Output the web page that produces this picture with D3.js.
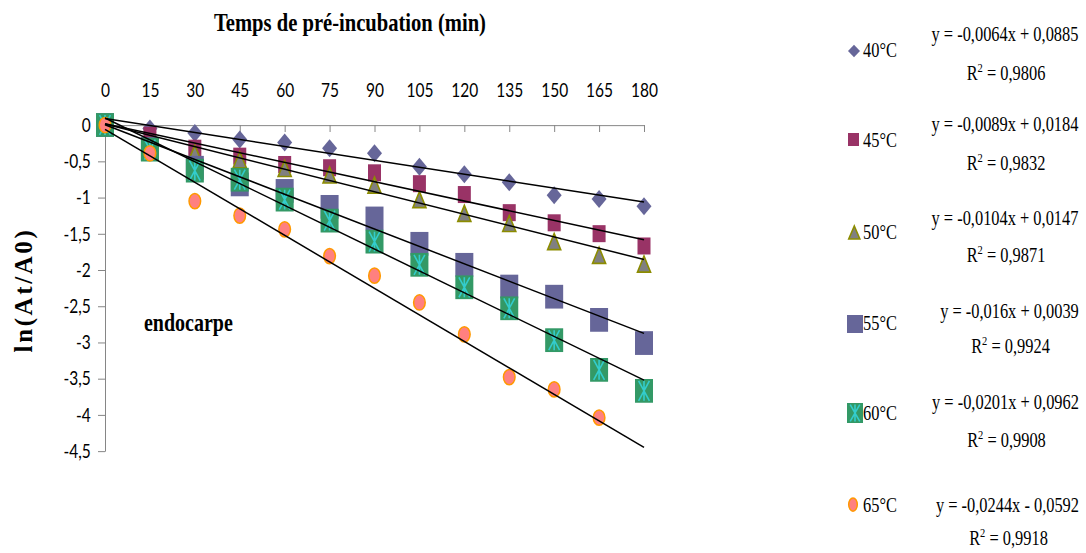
<!DOCTYPE html>
<html>
<head>
<meta charset="utf-8">
<script src="https://cdn.jsdelivr.net/npm/d3@7"></script>
<style>
  html, body { margin: 0; padding: 0; background: #fff; }
  svg { display: block; }
</style>
</head>
<body>
<svg id="chart"></svg>
<script>
// Pre-incubation times (min)
const times = [0, 15, 30, 45, 60, 75, 90, 105, 120, 135, 150, 165, 180];

// ln(At/A0) for each pre-incubation temperature
const s40 = [0, -0.05, -0.11, -0.20, -0.24, -0.32, -0.39, -0.575, -0.68, -0.79, -0.97, -1.02, -1.12];
const s45 = [0, -0.14, -0.32, -0.43, -0.545, -0.59, -0.66, -0.81, -0.96, -1.21, -1.35, -1.50, -1.67];
const s50 = [0, -0.30, -0.39, -0.48, -0.60, -0.69, -0.83, -1.03, -1.22, -1.36, -1.61, -1.80, -1.92];
const s55 = [0, -0.33, -0.59, -0.82, -0.91, -1.13, -1.29, -1.64, -1.93, -2.23, -2.37, -2.69, -3.01];
const s60 = [0, -0.34, -0.63, -0.755, -1.03, -1.32, -1.61, -1.93, -2.24, -2.53, -2.97, -3.38, -3.67];
const s65 = [0, -0.39, -1.05, -1.25, -1.44, -1.81, -2.08, -2.45, -2.89, -3.48, -3.65, -4.04];

const seriesNames = ["40°C", "45°C", "50°C", "55°C", "60°C", "65°C"];
const seriesValues = [s40, s45, s50, s55, s60, s65];

// Linear trend lines (y = a·x + b) and their R²
const slopes = [-0.0064, -0.0089, -0.0104, -0.016, -0.0201, -0.0244];
const intercepts = [0.0885, 0.0184, 0.0147, 0.0039, 0.0962, -0.0592];
const r2 = [0.9806, 0.9832, 0.9871, 0.9924, 0.9908, 0.9918];

const xTicks = times;
const yTicks = [0, -0.5, -1, -1.5, -2, -2.5, -3, -3.5, -4, -4.5];

const xTitle = "Temps de pré-incubation (min)";
const yTitle = "ln(At/A0)";
const note = "endocarpe";

// ---- layout ----
const W = 1086, H = 553;
const K = 1.25;              // vertical stretch of the drawing
const VH = H / K;

const svg = d3.select("#chart")
  .attr("width", W).attr("height", H)
  .attr("viewBox", `0 0 ${W} ${VH}`)
  .attr("preserveAspectRatio", "none");

const x = d3.scaleLinear().domain([0, 180]).range([105, 644]);
const y = d3.scaleLinear().domain([0, -4.5]).range([125 / K, 451 / K]);

const serif = "'Liberation Serif', 'Times New Roman', serif";
const sans = "Lato, 'Open Sans', sans-serif";

// marker styles per series: shape, size (w, h) in drawing units
const styles = [
  { shape: "diamond",  fill: "#666699", stroke: "none",    w: 15, h: 14.4 },
  { shape: "square",   fill: "#993366", stroke: "none",    w: 13, h: 13.6 },
  { shape: "triangle", fill: "#808080", stroke: "#8c8c00", w: 14.7, h: 14.4 },
  { shape: "square",   fill: "#666699", stroke: "none",    w: 18, h: 19 },
  { shape: "star",     fill: "#339966", stroke: "none",    w: 18, h: 19 },
  { shape: "circle",   fill: "#ff8080", stroke: "#ff9900", w: 13, h: 13.6 }
];

function drawMarker(g, st, w, h) {
  if (st.shape === "diamond") {
    g.append("path").attr("d", `M0,${-h/2}L${w/2},0L0,${h/2}L${-w/2},0Z`).attr("fill", st.fill);
  } else if (st.shape === "square") {
    g.append("rect").attr("x", -w/2).attr("y", -h/2).attr("width", w).attr("height", h).attr("fill", st.fill);
  } else if (st.shape === "triangle") {
    g.append("path").attr("d", `M0,${-h/2 + 0.8}L${w/2 - 0.8},${h/2 - 0.8}L${-w/2 + 0.8},${h/2 - 0.8}Z`)
      .attr("fill", st.fill).attr("stroke", st.stroke).attr("stroke-width", 1.6)
      .attr("vector-effect", "non-scaling-stroke").attr("stroke-linejoin", "miter");
  } else if (st.shape === "star") {
    g.append("rect").attr("x", -w/2).attr("y", -h/2).attr("width", w).attr("height", h).attr("fill", st.fill);
    const ix = w * 0.3, iy = h * 0.42;
    const star = `M0,${-iy}L0,${iy}M${-ix},${-iy}L${ix},${iy}M${ix},${-iy}L${-ix},${iy}`;
    g.append("path").attr("d", star).attr("stroke", "#33cccc").attr("stroke-width", 1.6)
      .attr("fill", "none").attr("vector-effect", "non-scaling-stroke");
  } else if (st.shape === "circle") {
    g.append("ellipse").attr("rx", w/2 - 0.7).attr("ry", h/2 - 0.7)
      .attr("fill", st.fill).attr("stroke", st.stroke).attr("stroke-width", 1.5)
      .attr("vector-effect", "non-scaling-stroke");
  }
}

// ---- axes ----
const fmt = d => String(d).replace(".", ",");

const xAxis = svg.append("g")
  .attr("transform", `translate(0,${y(0)})`)
  .call(d3.axisTop(x).tickValues(xTicks).tickFormat(fmt).tickSize(-5.6).tickSizeOuter(0).tickPadding(22.6));

const yAxis = svg.append("g")
  .attr("transform", `translate(${x(0)},0)`)
  .call(d3.axisLeft(y).tickValues(yTicks).tickFormat(fmt).tickSize(7).tickSizeOuter(0).tickPadding(7.3));

[xAxis, yAxis].forEach(ax => {
  ax.selectAll("path, line").attr("stroke", "#868686").attr("stroke-width", 1)
    .attr("vector-effect", "non-scaling-stroke");
  ax.selectAll("text").attr("font-family", sans).attr("font-size", 15.5).attr("fill", "#000");
});

// ---- data markers ----
const plot = svg.append("g");
seriesValues.forEach((vals, i) => {
  const st = styles[i];
  const gs = plot.append("g");
  vals.forEach((v, j) => {
    const g = gs.append("g").attr("transform", `translate(${x(times[j])},${y(v)})`);
    drawMarker(g, st, st.w, st.h);
  });
});

// ---- trend lines ----
const line = d3.line().x(d => x(d[0])).y(d => y(d[1]));
slopes.forEach((a, i) => {
  const b = intercepts[i];
  const pts = [0, 180].map(t => [t, a * t + b]);
  svg.append("path").attr("d", line(pts)).attr("fill", "none")
    .attr("stroke", "#000").attr("stroke-width", 1.5)
    .attr("vector-effect", "non-scaling-stroke");
});

// ---- titles ----
svg.append("text").attr("x", 350).attr("y", 30.7 / K)
  .attr("text-anchor", "middle").attr("font-family", serif).attr("font-weight", "bold")
  .attr("font-size", 20.6).text(xTitle);

svg.append("g").attr("transform", `translate(23,${290 / K}) scale(1,${1 / K}) rotate(-90)`)
  .append("text").attr("y", 9).attr("text-anchor", "middle")
  .attr("font-family", serif).attr("font-weight", "bold").attr("font-size", 25)
  .attr("letter-spacing", 2.6).text(yTitle);

svg.append("text").attr("x", 144).attr("y", 331 / K)
  .attr("font-family", serif).attr("font-weight", "bold").attr("font-size", 20).text(note);

// ---- legend with trend line equations ----
// positions in screen pixels: marker centre/size, label baseline, equation centre and baselines
const legendLayout = [
  { mx: 854,   my: 51,    mw: 12,   mh: 12.3, ly: 56.7, ex: 1005,   ey: 40.7, ry: 80 },
  { mx: 853.5, my: 139.5, mw: 11,   mh: 13,   ly: 146.7, ex: 1005,  ey: 130.7, ry: 170 },
  { mx: 854.3, my: 232.5, mw: 12.7, mh: 15,   ly: 239,  ex: 1005,   ey: 225,  ry: 262 },
  { mx: 855,   my: 324,   mw: 16,   mh: 18,   ly: 330,  ex: 1009.5, ey: 318,  ry: 353 },
  { mx: 855,   my: 413,   mw: 16,   mh: 20,   ly: 420,  ex: 1005.5, ey: 409,  ry: 447 },
  { mx: 853,   my: 504.5, mw: 10,   mh: 15,   ly: 512,  ex: 1007.5, ey: 512,  ry: 545 }
];

const num = v => String(Math.abs(v)).replace(".", ",");
const legend = svg.append("g").attr("font-family", serif).attr("fill", "#000");
seriesNames.forEach((name, i) => {
  const L = legendLayout[i];
  const g = legend.append("g").attr("transform", `translate(${L.mx},${L.my / K})`);
  drawMarker(g, styles[i], L.mw, L.mh / K);

  legend.append("text").attr("x", 863).attr("y", L.ly / K).attr("font-size", 16.4).text(name);

  const a = slopes[i], b = intercepts[i];
  const eq = `y = ${a < 0 ? "-" : ""}${num(a)}x ${b < 0 ? "-" : "+"} ${num(b)}`;
  legend.append("text").attr("x", L.ex).attr("y", L.ey / K).attr("text-anchor", "middle")
    .attr("font-size", 16.4).text(eq);

  const rt = legend.append("text").attr("x", L.ex + 1).attr("y", L.ry / K).attr("text-anchor", "middle")
    .attr("font-size", 16.4);
  rt.append("tspan").text("R");
  rt.append("tspan").attr("font-size", 10.5).attr("dy", -6.5).text("2");
  rt.append("tspan").attr("dy", 6.5).text(" = " + num(r2[i]));
});
</script>
</body>
</html>
